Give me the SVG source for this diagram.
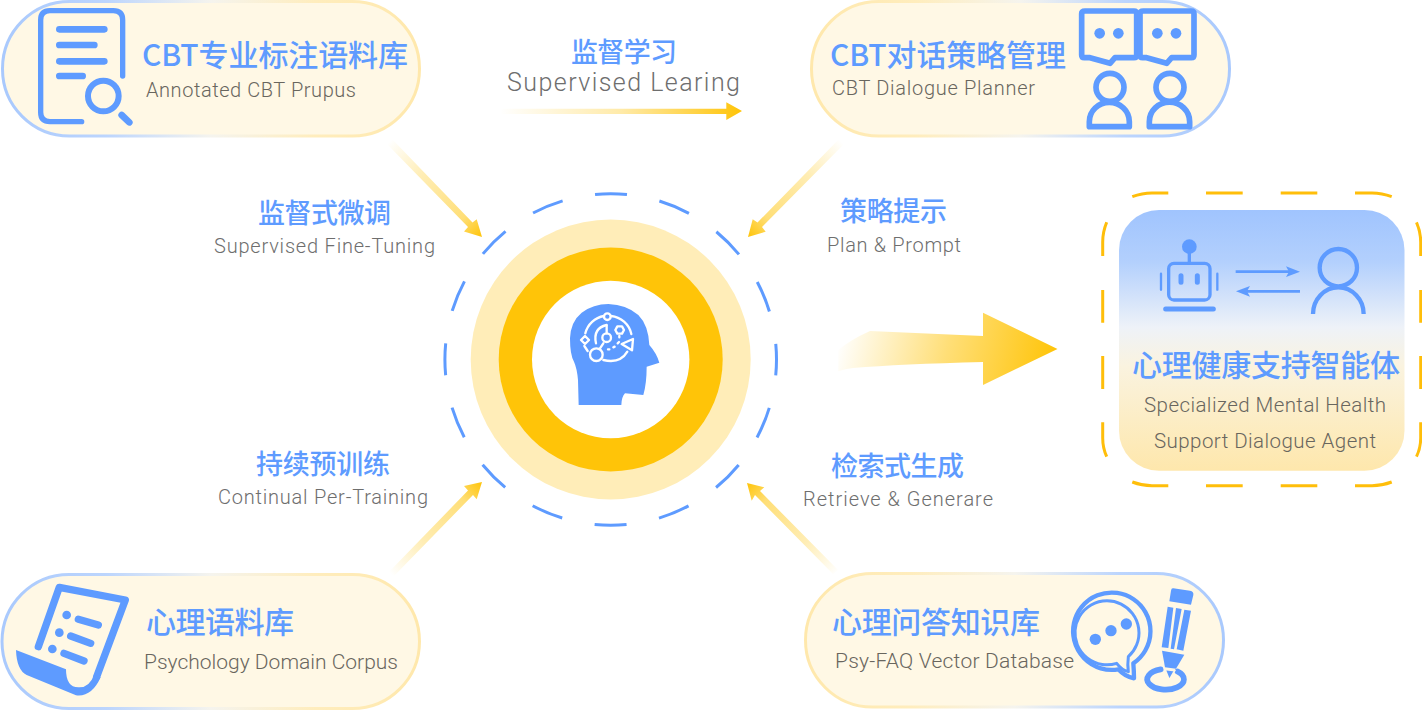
<svg xmlns="http://www.w3.org/2000/svg" width="1422" height="711" viewBox="0 0 1422 711">
<style>
.zh{font-family:"Noto Sans CJK SC","Noto Sans",sans-serif;fill:#5E9BFF;font-weight:500}
.en{font-family:"Roboto","Liberation Sans",sans-serif;fill:#69665E;font-weight:300}
.enb{font-family:"Roboto","Liberation Sans",sans-serif;fill:#6E6E6E;font-weight:300}
.pill{fill:#FFF8E5;stroke-width:3}
.ic{fill:none;stroke:#5E9BFF;stroke-linecap:round;stroke-linejoin:round}
.if{fill:#5E9BFF}
.hw{fill:none;stroke:#fff;stroke-width:7;stroke-linecap:round;stroke-linejoin:round}
</style>
<defs>
<linearGradient id="gL" x1="0" x2="1" y1="0" y2="0"><stop offset="0" stop-color="#A9C9FD"/><stop offset=".25" stop-color="#BCD5FD"/><stop offset=".5" stop-color="#F5F4EE"/><stop offset=".75" stop-color="#FFEDBD"/><stop offset="1" stop-color="#FFE8AC"/></linearGradient>
<linearGradient id="gR" x1="1" x2="0" y1="0" y2="0"><stop offset="0" stop-color="#A9C9FD"/><stop offset=".25" stop-color="#BCD5FD"/><stop offset=".5" stop-color="#F5F4EE"/><stop offset=".75" stop-color="#FFEDBD"/><stop offset="1" stop-color="#FFE8AC"/></linearGradient>
<linearGradient id="agent" x1="0" x2="0" y1="0" y2="1"><stop offset="0" stop-color="#A0C4FE"/><stop offset=".2" stop-color="#B3D0FD"/><stop offset=".45" stop-color="#EEF2F8"/><stop offset=".6" stop-color="#FAF3DF"/><stop offset="1" stop-color="#FEE7AC"/></linearGradient>
<linearGradient id="a1" gradientUnits="userSpaceOnUse" x1="388" y1="143" x2="482" y2="237"><stop offset="0" stop-color="#FFC408" stop-opacity="0"/><stop offset=".35" stop-color="#FFC408" stop-opacity=".3"/><stop offset=".8" stop-color="#FFC408" stop-opacity=".55"/><stop offset="1" stop-color="#FFC408"/></linearGradient>
<linearGradient id="a2" gradientUnits="userSpaceOnUse" x1="843" y1="143" x2="748" y2="237"><stop offset="0" stop-color="#FFC408" stop-opacity="0"/><stop offset=".35" stop-color="#FFC408" stop-opacity=".3"/><stop offset=".8" stop-color="#FFC408" stop-opacity=".55"/><stop offset="1" stop-color="#FFC408"/></linearGradient>
<linearGradient id="a3" gradientUnits="userSpaceOnUse" x1="390" y1="573" x2="482" y2="482"><stop offset="0" stop-color="#FFC408" stop-opacity="0"/><stop offset=".35" stop-color="#FFC408" stop-opacity=".3"/><stop offset=".8" stop-color="#FFC408" stop-opacity=".55"/><stop offset="1" stop-color="#FFC408"/></linearGradient>
<linearGradient id="a4" gradientUnits="userSpaceOnUse" x1="838" y1="573" x2="747" y2="483"><stop offset="0" stop-color="#FFC408" stop-opacity="0"/><stop offset=".35" stop-color="#FFC408" stop-opacity=".3"/><stop offset=".8" stop-color="#FFC408" stop-opacity=".55"/><stop offset="1" stop-color="#FFC408"/></linearGradient>
<linearGradient id="a5" gradientUnits="userSpaceOnUse" x1="500" y1="111" x2="742" y2="111"><stop offset="0" stop-color="#FFC408" stop-opacity="0"/><stop offset=".5" stop-color="#FFC408" stop-opacity=".35"/><stop offset="1" stop-color="#FFC408"/></linearGradient>
<linearGradient id="a6" gradientUnits="userSpaceOnUse" x1="842" y1="325" x2="1052" y2="375"><stop offset="0" stop-color="#FFC408" stop-opacity="0"/><stop offset=".5" stop-color="#FFC408" stop-opacity=".55"/><stop offset="1" stop-color="#FFC408"/></linearGradient>
</defs>

<g id="connectors">
<polygon fill="url(#a1)" points="386,143 391,138 472.5,222.5 476.7,219.3 482,237 464,231.5 468,227"/>
<polygon fill="url(#a2)" points="845,143 840,138 757.5,222.5 752.7,219.3 748,237 765.7,231.7 762,227"/>
<polygon fill="url(#a3)" points="388,573 394,576 473,495 476.7,499.3 482,482 464,486 468,490.5"/>
<polygon fill="url(#a4)" points="838,570 833,574 755,495 751.7,500.7 747,483 764.3,487.3 760,491"/>
<polygon fill="url(#a5)" points="500,108.700 726.3,108.700 726.3,102.3 742,111 726.3,120 726.3,114 500,114"/>
<path fill="url(#a6)" d="M870,331 L983,336 V312.7 L1057.5,349 L983,385 V362 Q900,364 853,368 Q845,369 838.3,371.3 V350 Q850,340 870,331Z"/>
</g>

<g id="center">
<circle cx="610.7" cy="359.5" r="140" fill="#FFEDB8"/>
<circle cx="610.7" cy="359.5" r="112" fill="#FFC408"/>
<circle cx="610.7" cy="359.5" r="78.7" fill="#fff"/>
<circle cx="610.7" cy="359.5" r="165.8" fill="none" stroke="#5E9BFF" stroke-width="3" stroke-dasharray="32 33.11" stroke-dashoffset="16"/>
<g transform="translate(430 180) scale(.33333)">
<path class="if" d="M446,675 L444,600 Q441,565 432,545 Q420,525 420,475 Q422,425 455,398 Q490,372 535,372 Q590,374 625,405 Q655,435 658,495 Q680,520 688,548 L650,560 Q650,610 640,645 L585,640 Q575,650 574,675Z"/>
<circle class="hw" cx="532" cy="410" r="10"/>
<path class="hw" d="M466,460 A70,70 0 0 1 522,408"/>
<path class="hw" d="M543,408 A70,70 0 0 1 604,462"/>
<circle class="hw" cx="530" cy="473" r="13"/>
<path class="hw" d="M530,437 V460"/>
<path class="hw" d="M498,490 Q488,445 530,435"/>
<path class="hw" d="M569,450 m-13,0 l6,-11 h14 l6,11 l-6,11 h-14z"/>
<path class="hw" d="M465,468 L477,480 L465,492 L453,480Z"/>
<path class="hw" d="M463,498 L473,513"/>
<path class="hw" d="M575,492 L609,477 L606,511Z"/>
<circle class="hw" cx="499" cy="524" r="19"/>
<path class="hw" d="M510,505 L520,490"/>
<path class="hw" d="M520,540 Q570,552 592,515"/>
<path class="hw" d="M534,508 h4 M550,502 l4,-2 M563,490 l4,-4 M568,472 v-4"/>
</g>
</g>

<g id="node-corpus">
<rect class="pill" x="2.5" y="1.5" width="417" height="134.500" rx="67" stroke="url(#gL)"/>
<g transform="scale(.33333)">
<path class="ic" stroke-width="16" d="M245,365 H150 Q122,365 122,337 V60 Q122,32 150,32 H340 Q368,32 368,60 V228"/>
<path class="ic" stroke-width="20" d="M178,88 H313 M178,135 H283 M178,184 H313 M178,228 H248"/>
<circle class="ic" stroke-width="18" cx="310" cy="288" r="46"/>
<path class="ic" stroke-width="20" d="M365,345 L388,367"/>
</g>
<text class="zh" x="142" y="66" font-size="30" textLength="266">CBT专业标注语料库</text>
<text class="en" x="146" y="97" font-size="20" textLength="210">Annotated CBT Prupus</text>
</g>

<g id="node-planner">
<rect class="pill" x="811.5" y="1.5" width="418" height="134.500" rx="67" stroke="url(#gR)"/>
<g transform="translate(800 0) scale(.33333)">
<path class="ic" stroke-width="17" d="M855,33 H1002 Q1010,33 1010,41 V165 Q1010,173 1002,173 H945 L930,190 L870,173 H853 Q845,173 845,165 V41 Q845,33 855,33Z"/>
<path class="ic" stroke-width="17" d="M1030,33 H1174 Q1182,33 1182,41 V165 Q1182,173 1174,173 H1115 L1100,190 L1040,173 H1028 Q1020,173 1020,165 V41 Q1020,33 1030,33Z"/>
<g class="if"><circle cx="899" cy="100" r="16"/><circle cx="955" cy="100" r="16"/><circle cx="1072" cy="100" r="16"/><circle cx="1128" cy="100" r="16"/></g>
<circle class="ic" stroke-width="17" cx="930" cy="262" r="42"/>
<circle class="ic" stroke-width="17" cx="1110" cy="262" r="42"/>
<path class="ic" stroke-width="17" d="M868,380 V365 A60,58 0 0 1 988,365 V380Z"/>
<path class="ic" stroke-width="17" d="M1048,380 V365 A60,58 0 0 1 1169,365 V380Z"/>
</g>
<text class="zh" x="830" y="66" font-size="30" textLength="236">CBT对话策略管理</text>
<text class="en" x="832" y="95" font-size="20" textLength="203">CBT Dialogue Planner</text>
</g>

<g id="node-psych">
<rect class="pill" x="2" y="574.5" width="417.500" height="134" rx="67" stroke="url(#gL)"/>
<g transform="translate(0 560) scale(.33333)">
<path class="ic" stroke-width="22" d="M115,260 L178,82 L376,120 L290,350"/>
<path class="if" d="M48,270 L198,328 Q198,382 235,382 Q268,384 282,345 L302,352 Q275,412 228,406 L80,345 Q50,330 48,270Z"/>
<g class="if"><circle cx="200" cy="165" r="13"/><circle cx="178" cy="218" r="13"/><circle cx="157" cy="267" r="13"/></g>
<path class="ic" stroke-width="22" d="M235,178 L295,195 M212,228 L272,250 M192,280 L252,303"/>
</g>
<text class="zh" x="146" y="633" font-size="30" textLength="148">心理语料库</text>
<text class="en" x="144" y="669" font-size="21" textLength="254">Psychology Domain Corpus</text>
</g>

<g id="node-faq">
<rect class="pill" x="805.500" y="573.5" width="418" height="133.500" rx="67" stroke="url(#gR)"/>
<g transform="translate(800 560) scale(.33333)">
<path class="ic" stroke-width="13" d="M1002,355 Q975,350 955,328 A116,116 0 1 1 1000,310 Q1002,335 1002,355Z"/>
<path class="ic" stroke-width="9" d="M985,335 Q965,330 950,310 A96,96 0 1 1 985,290 Q982,315 985,335Z"/>
<g class="if"><circle cx="886" cy="238" r="17"/><circle cx="933" cy="212" r="17"/><circle cx="979" cy="192" r="17"/></g>
<path class="ic" stroke-width="17" d="M1082,328 A55,31 0 1 0 1132,334"/>
<path class="if" d="M1120,85 L1170,92 Q1182,94 1180,105 L1173,134 L1108,124 L1113,92 Q1114,84 1120,85Z"/>
<path class="if" d="M1103,140 L1120,143 L1105,264 L1085,262Z M1128,144 L1145,147 L1122,268 L1112,266Z M1153,149 L1173,152 L1150,272 L1130,268Z"/>
<path class="if" d="M1086,272 L1153,284 L1128,326 L1095,322Z"/>
<path class="if" stroke="#FFF8E5" stroke-width="5" d="M1095,328 L1124,332 L1108,360Z"/>
</g>
<text class="zh" x="832" y="633" font-size="30" textLength="208">心理问答知识库</text>
<text class="en" x="835" y="668" font-size="21" textLength="239">Psy-FAQ Vector Database</text>
</g>

<g id="node-agent">
<path fill="none" stroke="#FFBE0A" stroke-width="3" d="M1132.300,196.700 Q1142,193 1152,193 H1168.300 M1206,193 H1242.700 M1280.700,193 H1317.300 M1355,193 H1372 Q1382,193 1391.700,196.700 M1106.700,222.300 Q1102.700,232 1102.700,242 V256 M1102.700,290 V322.700 M1102.700,356 V389 M1102.700,422.300 V438 Q1102.700,448 1106.700,456.700 M1132.300,482 Q1142,485.700 1152,485.700 H1168.300 M1206,485.700 H1242.700 M1280.700,485.700 H1317.300 M1355,485.700 H1372 Q1382,485.700 1391.700,482 M1416.500,222.300 Q1420.700,232 1420.700,242 V256 M1420.700,290 V322.700 M1420.700,356 V389 M1420.700,422.300 V438 Q1420.700,448 1416.500,456.700"/>
<rect x="1119" y="210" width="285.500" height="260.700" rx="40" fill="url(#agent)"/>
<g transform="translate(1090 185) scale(.33333)">
<rect class="ic" stroke-width="10" x="236" y="235" width="124" height="110" rx="16"/>
<circle class="if" cx="298" cy="185" r="22"/>
<path class="ic" stroke-width="10" d="M298,205 V235"/>
<path class="ic" stroke-width="15" d="M273,272 V292 M322,272 V292"/>
<path class="ic" stroke-width="7" d="M213,266 V314 M382,266 V314"/>
<path class="ic" stroke-width="15" d="M227,372 H370"/>
<path class="ic" stroke-width="8" style="stroke-linecap:butt" d="M437,260 H600 M630,319 H470"/>
<path class="if" d="M630,260 L588,244 L597,260 L588,276Z M438,319 L480,303 L471,319 L480,335Z"/>
<circle class="ic" stroke-width="13" cx="745" cy="248" r="56"/>
<path class="ic" stroke-width="13" style="stroke-linecap:butt" d="M669,387 A76,80 0 0 1 821,387"/>
</g>
<text class="zh" x="1132" y="375.500" font-size="30" textLength="268">心理健康支持智能体</text>
<text class="en" x="1144" y="412" font-size="20.500" textLength="242">Specialized Mental Health</text>
<text class="en" x="1154" y="448" font-size="20.500" textLength="222">Support Dialogue Agent</text>
</g>

<g id="labels">
<text class="zh" x="571" y="62" font-size="27" textLength="106">监督学习</text>
<text class="enb" x="507" y="91" font-size="25" textLength="233">Supervised Learing</text>
<text class="zh" x="258" y="223" font-size="27" textLength="133">监督式微调</text>
<text class="enb" x="214" y="253" font-size="20" textLength="221">Supervised Fine-Tuning</text>
<text class="zh" x="840" y="221" font-size="27" textLength="107">策略提示</text>
<text class="enb" x="827" y="252" font-size="20" textLength="134">Plan &amp; Prompt</text>
<text class="zh" x="256" y="474" font-size="27" textLength="134">持续预训练</text>
<text class="enb" x="218" y="504" font-size="20" textLength="210">Continual Per-Training</text>
<text class="zh" x="831" y="475.500" font-size="27" textLength="133">检索式生成</text>
<text class="enb" x="803" y="506" font-size="20" textLength="190">Retrieve &amp; Generare</text>
</g>
</svg>
